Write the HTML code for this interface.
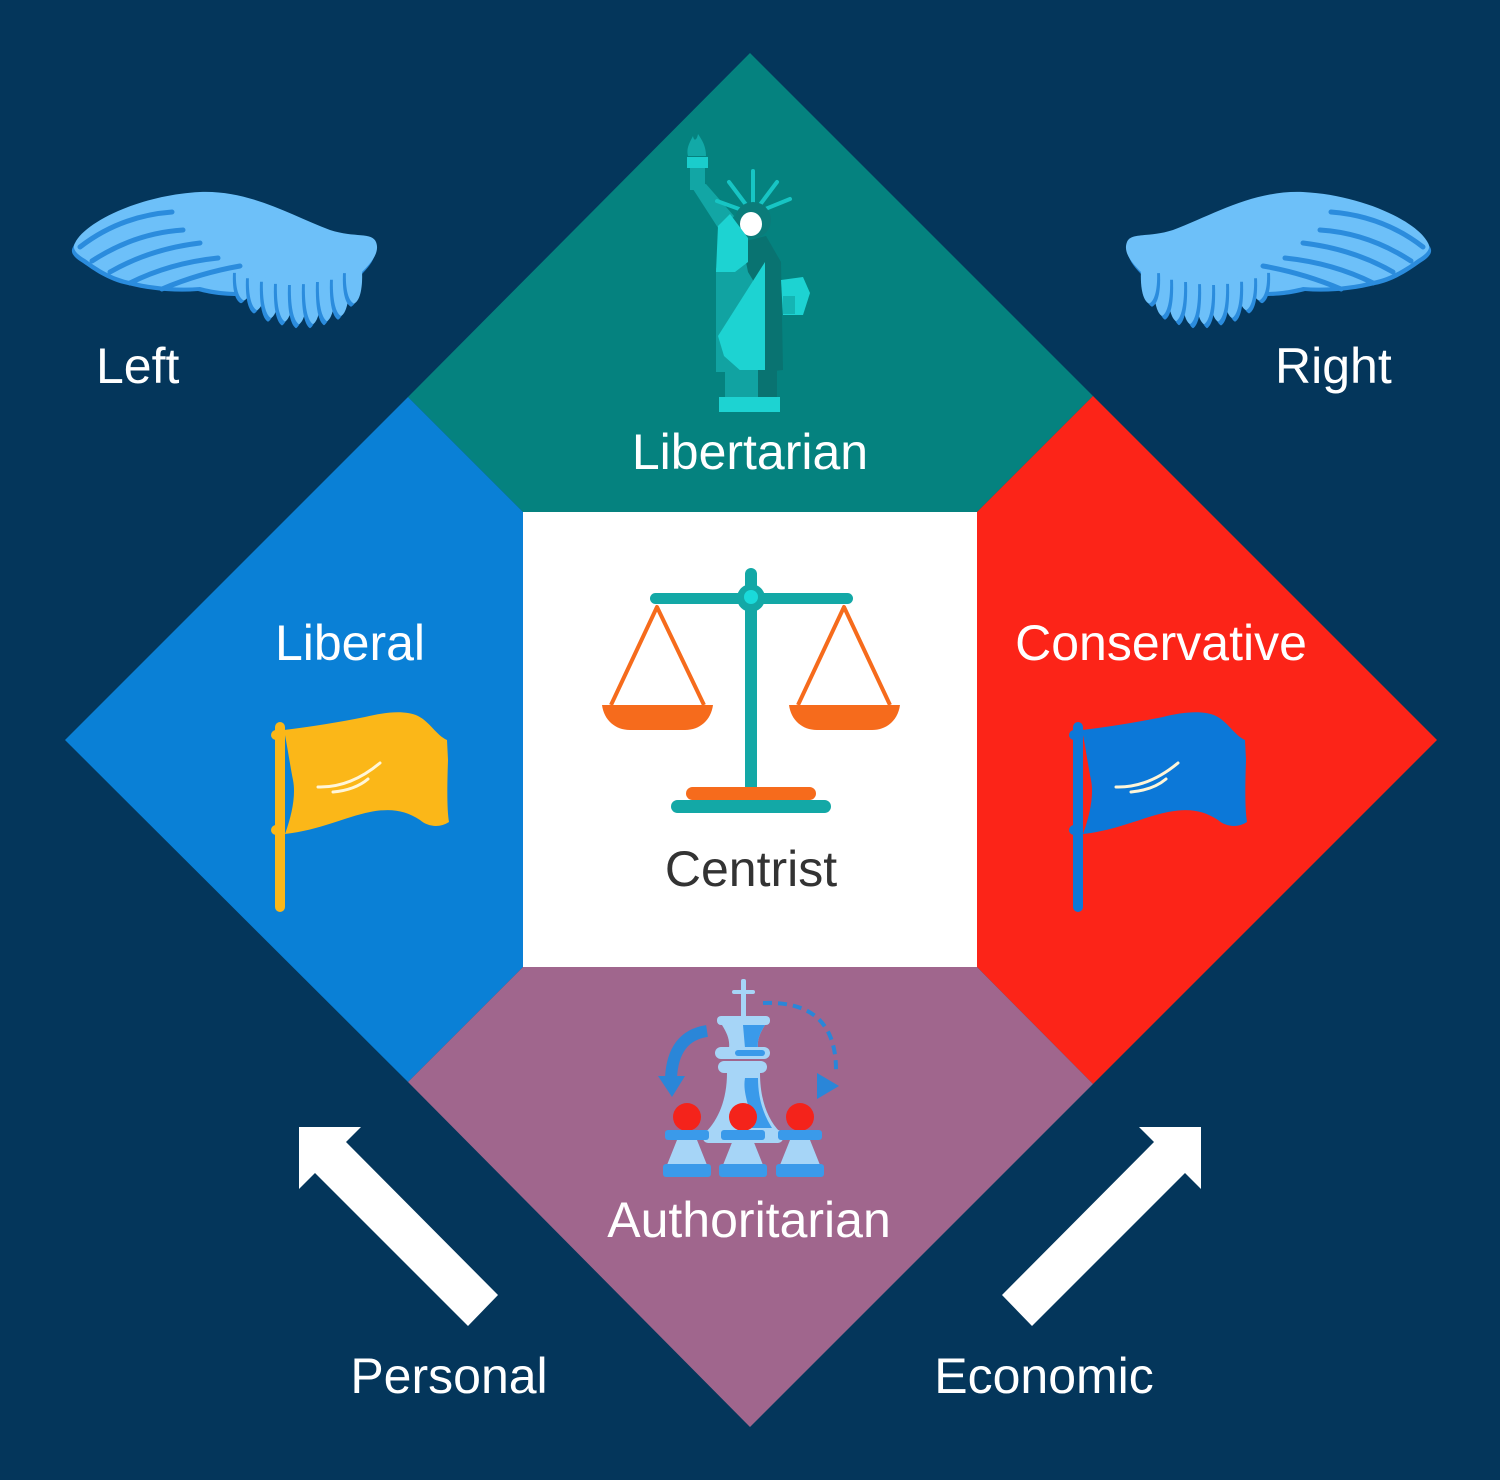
<!DOCTYPE html>
<html><head><meta charset="utf-8"><style>
html,body{margin:0;padding:0;background:#04365B;}
svg{display:block;}
text{font-family:"Liberation Sans",Arial,sans-serif;font-size:50px;}
</style></head><body>
<svg width="1500" height="1480" viewBox="0 0 1500 1480" xmlns="http://www.w3.org/2000/svg">
<rect width="1500" height="1480" fill="#04365B"/>

<!-- diamond segments -->
<polygon points="750,53 1093,396 977,512 523,512 408,397" fill="#05827F"/>
<polygon points="408,397 523,512 523,967 408,1082 65,740" fill="#0A80D6"/>
<polygon points="1093,396 1437,740 1093,1084 977,967 977,512" fill="#FC2418"/>
<polygon points="523,967 977,967 1093,1084 750,1427 408,1082" fill="#A0668D"/>
<rect x="523" y="512" width="454" height="455" fill="#FFFFFF"/>

<defs>
<path id="wbody" d="M 75,243 C 85,222 140,195 200,192 C 250,190 290,215 330,230 C 355,238 372,232 376,242 C 380,252 372,262 362,272 L 360,286 L 240,292 C 220,292 208,289 200,287 C 175,289 150,286 130,281 C 110,277 95,266 85,259 C 75,253 72,248 75,243 Z"/>
<g id="fth">
  <path d="M -8,0 C -9,20 -5,30 0,32 C 5,30 9,20 8,0 Z"/>
</g>
<g id="wing">
  <use href="#wbody" fill="#2B8CDD" transform="translate(-2,4)"/>
  <use href="#wbody" fill="#6DC0F9"/>
  <g>
    <g transform="translate(244,270) scale(1,0.95)"><use href="#fth" fill="#2B8CDD" transform="translate(-3,3)"/><use href="#fth" fill="#6DC0F9"/></g>
    <g transform="translate(257,275) scale(1,1.1)"><use href="#fth" fill="#2B8CDD" transform="translate(-3,3)"/><use href="#fth" fill="#6DC0F9"/></g>
    <g transform="translate(271,278) scale(1,1.25)"><use href="#fth" fill="#2B8CDD" transform="translate(-3,3)"/><use href="#fth" fill="#6DC0F9"/></g>
    <g transform="translate(285,280) scale(1,1.3)"><use href="#fth" fill="#2B8CDD" transform="translate(-3,3)"/><use href="#fth" fill="#6DC0F9"/></g>
    <g transform="translate(299,281) scale(1,1.35)"><use href="#fth" fill="#2B8CDD" transform="translate(-3,3)"/><use href="#fth" fill="#6DC0F9"/></g>
    <g transform="translate(313,280) scale(1,1.38)"><use href="#fth" fill="#2B8CDD" transform="translate(-3,3)"/><use href="#fth" fill="#6DC0F9"/></g>
    <g transform="translate(327,278) scale(1,1.35)"><use href="#fth" fill="#2B8CDD" transform="translate(-3,3)"/><use href="#fth" fill="#6DC0F9"/></g>
    <g transform="translate(341,276) scale(1,1.25)"><use href="#fth" fill="#2B8CDD" transform="translate(-3,3)"/><use href="#fth" fill="#6DC0F9"/></g>
    <g transform="translate(354,270) scale(1,1.05)"><use href="#fth" fill="#2B8CDD" transform="translate(-3,3)"/><use href="#fth" fill="#6DC0F9"/></g>
  </g>
  <g fill="none" stroke="#2B8CDD" stroke-width="5" stroke-linecap="round">
    <path d="M 80,247 Q 120,216 172,212"/>
    <path d="M 92,261 Q 135,233 183,230"/>
    <path d="M 110,272 Q 150,249 200,243"/>
    <path d="M 130,283 Q 170,263 218,258"/>
    <path d="M 162,289 Q 200,273 240,266"/>
  </g>
</g>
<g id="flag">
  <rect x="275" y="722" width="10" height="190" rx="5" fill="currentColor"/>
  <circle cx="276" cy="735" r="5" fill="currentColor"/>
  <circle cx="276" cy="830" r="5" fill="currentColor"/>
  <path d="M 284,730 C 310,727 340,722 365,717 C 385,712 405,710 418,716 C 430,722 436,735 447,740 L 448,760 C 447,790 447,810 449,822 C 440,828 428,827 420,820 C 405,810 390,808 370,812 C 345,817 320,830 285,834 C 292,815 296,795 293,780 C 290,765 288,750 284,730 Z" fill="currentColor"/>
  <path d="M 318,787 Q 350,788 380,763" fill="none" stroke="#FFF6D8" stroke-width="3" stroke-linecap="round"/>
  <path d="M 333,792 Q 355,790 368,779" fill="none" stroke="#FFF6D8" stroke-width="3" stroke-linecap="round"/>
</g>
</defs>
<use href="#wing"/>
<use href="#wing" transform="translate(1503,0) scale(-1,1)"/>

<!-- statue of liberty -->
<g>
  <path d="M 688,156 C 686,148 690,142 693,136 C 694,142 697,140 698,134 C 702,140 706,146 706,156 Z" fill="#12A9A7"/>
  <rect x="687" y="157" width="21" height="11" fill="#1ACDCC"/>
  <rect x="690" y="168" width="15" height="22" fill="#12A6A5"/>
  <polygon points="691,186 706,184 734,216 722,234" fill="#12A6A5"/>
  <g stroke="#17C5C4" stroke-width="4" stroke-linecap="round">
    <line x1="753" y1="214" x2="753" y2="171"/>
    <line x1="753" y1="214" x2="729" y2="182"/>
    <line x1="753" y1="214" x2="777" y2="182"/>
    <line x1="753" y1="214" x2="717" y2="201"/>
    <line x1="753" y1="214" x2="790" y2="199"/>
  </g>
  <circle cx="753" cy="220" r="18" fill="#0B7C7A"/>
  <ellipse cx="751" cy="224" rx="11" ry="12" fill="#FFFFFF"/>
  <polygon points="716,268 748,258 772,262 772,372 716,372" fill="#11A3A2"/>
  <polygon points="742,242 766,236 781,262 783,370 765,372 765,300 748,272" fill="#097371"/>
  <polygon points="718,226 730,214 748,238 748,262 735,272 716,272" fill="#1DD3D2"/>
  <polygon points="765,262 765,372 742,372 724,356 718,336" fill="#1DD3D2"/>
  <polygon points="781,280 803,277 810,293 803,315 783,315" fill="#1DD3D2"/>
  <rect x="783" y="296" width="12" height="18" fill="#14B5B4"/>
  <rect x="725" y="370" width="35" height="28" fill="#11A3A2"/>
  <rect x="758" y="370" width="19" height="28" fill="#097371"/>
  <rect x="719" y="397" width="61" height="15" fill="#1DD3D2"/>
</g>

<!-- scale -->
<g>
  <rect x="745" y="568" width="12" height="30" rx="6" fill="#13A8A6"/>
  <rect x="650" y="593" width="203" height="11" rx="5.5" fill="#13A8A6"/>
  <rect x="745" y="598" width="12" height="192" fill="#13A8A6"/>
  <circle cx="751" cy="598" r="14" fill="#13A8A6"/>
  <circle cx="751" cy="597" r="7" fill="#1ADADA"/>
  <g fill="none" stroke="#F66B1C" stroke-width="4" stroke-linejoin="round">
    <polyline points="611,705 657,607 704,705"/>
    <polyline points="798,705 844,607 890,705"/>
  </g>
  <path d="M 602,705 L 713,705 C 711,720 700,730 685,730 L 630,730 C 615,730 604,720 602,705 Z" fill="#F66B1C"/>
  <path d="M 789,705 L 900,705 C 898,720 887,730 872,730 L 817,730 C 802,730 791,720 789,705 Z" fill="#F66B1C"/>
  <rect x="686" y="787" width="130" height="13" rx="6.5" fill="#F66B1C"/>
  <rect x="671" y="800" width="160" height="13" rx="6.5" fill="#13A8A6"/>
</g>

<!-- flags -->
<use href="#flag" style="color:#FBB718"/>
<use href="#flag" transform="translate(798,0)" style="color:#0C78D8"/>

<!-- chess icon -->
<g>
  <rect x="741" y="979" width="5" height="42" rx="2" fill="#A6D5F7"/>
  <rect x="732" y="990" width="23" height="4" rx="2" fill="#A6D5F7"/>
  <rect x="717" y="1016" width="53" height="9" rx="4" fill="#A6D5F7"/>
  <path d="M 722,1025 L 765,1025 C 760,1033 757,1040 758,1048 L 729,1048 C 730,1040 727,1033 722,1025 Z" fill="#A6D5F7"/>
  <path d="M 743,1025 L 765,1025 C 760,1033 757,1040 758,1048 L 745,1048 Z" fill="#3A9AEA"/>
  <rect x="715" y="1047" width="55" height="12" rx="6" fill="#A6D5F7"/>
  <rect x="735" y="1050" width="30" height="6" rx="3" fill="#3A9AEA"/>
  <rect x="718" y="1061" width="49" height="12" rx="6" fill="#A6D5F7"/>
  <path d="M 727,1073 L 760,1073 C 760,1100 768,1120 780,1132 L 706,1132 C 718,1120 727,1100 727,1073 Z" fill="#A6D5F7"/>
  <path d="M 745,1078 L 758,1078 C 758,1100 764,1115 772,1128 L 752,1128 C 752,1110 742,1095 745,1078 Z" fill="#3A9AEA"/>
  <rect x="703" y="1130" width="80" height="13" rx="5" fill="#A6D5F7"/>
  <path d="M 707,1031 Q 673,1036 671,1078" fill="none" stroke="#2A86D8" stroke-width="12"/>
  <polygon points="658,1076 685,1076 672,1097" fill="#2A86D8"/>
  <path d="M 763,1003 Q 836,1000 836,1070" fill="none" stroke="#2A86D8" stroke-width="4" stroke-dasharray="9,6"/>
  <polygon points="817,1073 817,1099 839,1086" fill="#2A86D8"/>
  <g>
    <circle cx="687" cy="1117" r="14" fill="#F4231B"/>
    <rect x="665" y="1130" width="44" height="10" rx="3" fill="#3A9AEA"/>
    <polygon points="677,1140 697,1140 707,1165 667,1165" fill="#A6D5F7"/>
    <rect x="663" y="1164" width="48" height="13" rx="3" fill="#3A9AEA"/>
    <circle cx="743" cy="1117" r="14" fill="#F4231B"/>
    <rect x="721" y="1130" width="44" height="10" rx="3" fill="#3A9AEA"/>
    <polygon points="733,1140 753,1140 763,1165 723,1165" fill="#A6D5F7"/>
    <rect x="719" y="1164" width="48" height="13" rx="3" fill="#3A9AEA"/>
    <circle cx="800" cy="1117" r="14" fill="#F4231B"/>
    <rect x="778" y="1130" width="44" height="10" rx="3" fill="#3A9AEA"/>
    <polygon points="790,1140 810,1140 820,1165 780,1165" fill="#A6D5F7"/>
    <rect x="776" y="1164" width="48" height="13" rx="3" fill="#3A9AEA"/>
  </g>
</g>

<!-- axis arrows -->
<polygon points="299,1127 361,1127 346,1142 498,1295 468,1326 315,1173 299,1189" fill="#FFFFFF"/>
<polygon points="1201,1127 1139,1127 1154,1142 1002,1295 1032,1326 1185,1173 1201,1189" fill="#FFFFFF"/>

<!-- labels -->
<text x="96" y="383" fill="#FFFFFF">Left</text>
<text x="1275" y="383" fill="#FFFFFF">Right</text>
<text x="750" y="469" fill="#FFFFFF" text-anchor="middle">Libertarian</text>
<text x="350" y="660" fill="#FFFFFF" text-anchor="middle">Liberal</text>
<text x="1161" y="660" fill="#FFFFFF" text-anchor="middle">Conservative</text>
<text x="751" y="886" fill="#333333" text-anchor="middle">Centrist</text>
<text x="749" y="1237" fill="#FFFFFF" text-anchor="middle">Authoritarian</text>
<text x="449" y="1393" fill="#FFFFFF" text-anchor="middle">Personal</text>
<text x="1044" y="1393" fill="#FFFFFF" text-anchor="middle">Economic</text>
</svg>
</body></html>
